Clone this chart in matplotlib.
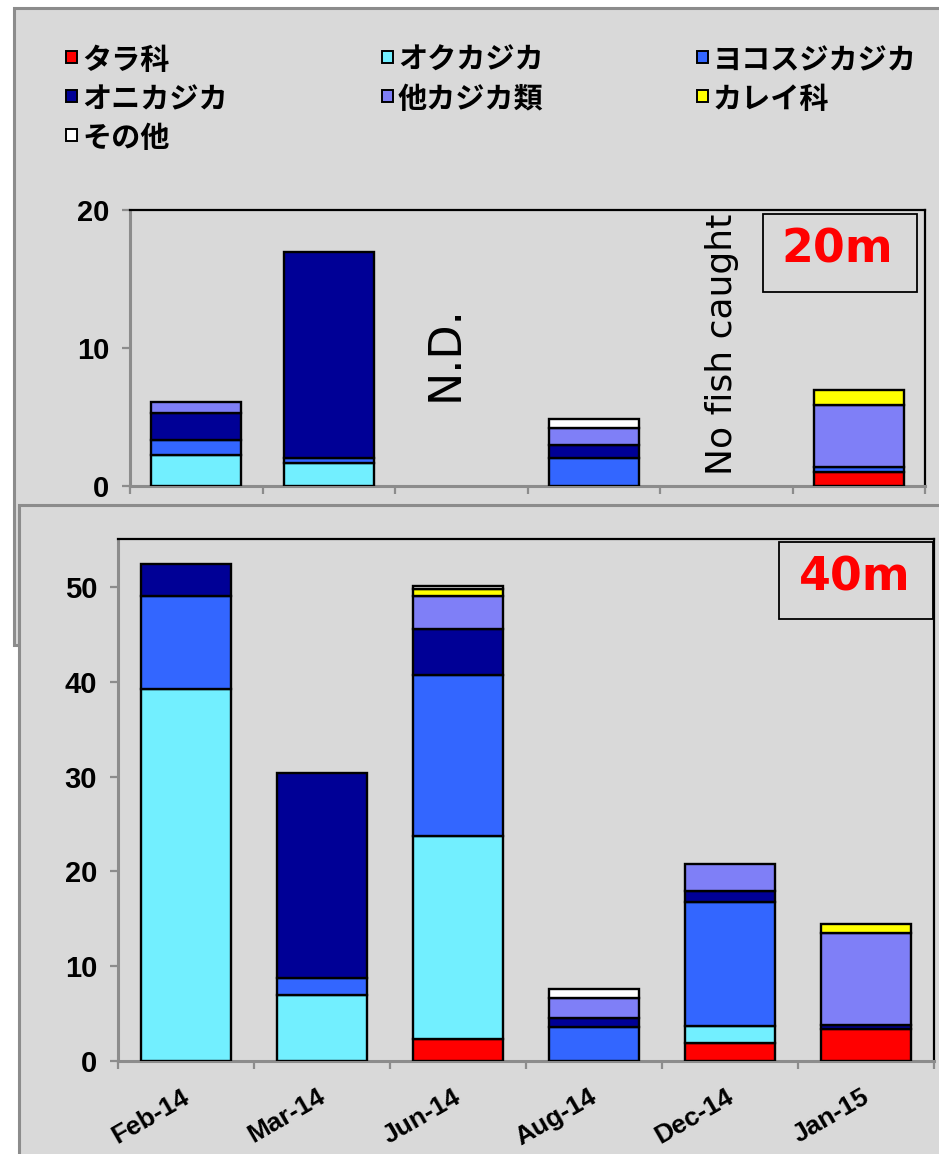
import numpy as np
import matplotlib
matplotlib.use("Agg")
import matplotlib.pyplot as plt
from matplotlib.patches import Rectangle
from matplotlib.transforms import ScaledTranslation

# ---------------- data ----------------
categories = ["Feb-14", "Mar-14", "Jun-14", "Aug-14", "Dec-14", "Jan-15"]
species = ["タラ科", "オクカジカ", "ヨコスジカジカ", "オニカジカ", "他カジカ類", "カレイ科", "その他"]
colors = ["#ff0000", "#72efff", "#3366ff", "#000096", "#7f7ff7", "#ffff00", "#ffffff"]

# 20 m station
tara_20 = [0, 0, 0, 0, 0, 1.0]
okukajika_20 = [2.25, 1.67, 0, 0, 0, 0]
yokosuji_20 = [1.1, 0.36, 0, 2.03, 0, 0.38]
onikajika_20 = [1.95, 14.9, 0, 0.94, 0, 0]
otherkajika_20 = [0.8, 0, 0, 1.23, 0, 4.5]
karei_20 = [0, 0, 0, 0, 0, 1.1]
sonota_20 = [0, 0, 0, 0.66, 0, 0]

# 40 m station
tara_40 = [0, 0, 2.3, 0, 1.9, 3.4]
okukajika_40 = [39.2, 7.0, 21.4, 0, 1.8, 0]
yokosuji_40 = [9.85, 1.8, 17.0, 3.6, 13.1, 0]
onikajika_40 = [3.4, 21.6, 4.9, 0.9, 1.1, 0.35]
otherkajika_40 = [0, 0, 3.45, 2.15, 2.9, 9.75]
karei_40 = [0, 0, 0.75, 0, 0, 0.95]
sonota_40 = [0, 0, 0.3, 0.95, 0, 0]

series_20 = [tara_20, okukajika_20, yokosuji_20, onikajika_20, otherkajika_20, karei_20, sonota_20]
series_40 = [tara_40, okukajika_40, yokosuji_40, onikajika_40, otherkajika_40, karei_40, sonota_40]

yticks_20 = [0, 10, 20]
yticks_40 = [0, 10, 20, 30, 40, 50]

# ---------------- layout ----------------
W, H = 939, 1154
DPI = 100
BG = "#d9d9d9"
GRAY = "#8c8c8c"

fig = plt.figure(figsize=(W / DPI, H / DPI), dpi=DPI)
fig.patch.set_facecolor("white")


def fx(x):
    return x / W


def fy(y):
    return 1 - y / H


# panel backgrounds
top_panel = Rectangle((fx(14), fy(645)), fx(1000), (645 - 8) / H, transform=fig.transFigure,
                      facecolor=BG, edgecolor=GRAY, linewidth=2.2, zorder=-2)
fig.patches.append(top_panel)
bot_panel = Rectangle((fx(19), fy(1200)), fx(1000), (1200 - 505) / H, transform=fig.transFigure,
                      facecolor=BG, edgecolor=GRAY, linewidth=2.2, zorder=-1)
fig.patches.append(bot_panel)

ax1 = fig.add_axes([fx(130), fy(486), (925 - 130) / W, (486 - 210) / H])
ax2 = fig.add_axes([fx(118), fy(1061), (934 - 118) / W, (1061 - 539) / H])

tick_font = dict(family="Liberation Sans", weight="bold")


def draw_stack(ax, series, width):
    x = np.arange(len(categories))
    bottom = np.zeros(len(categories))
    for vals, col in zip(series, colors):
        v = np.asarray(vals, dtype=float)
        m = v > 0
        ax.bar(x[m], v[m], width=width, bottom=bottom[m], color=col,
               edgecolor="black", linewidth=1.7, zorder=3)
        bottom += v


def style_axes(ax, ymax, yticks):
    ax.set_facecolor(BG)
    ax.set_xlim(-0.5, len(categories) - 0.5)
    ax.set_ylim(0, ymax)
    ax.set_yticks(yticks)
    ax.set_yticklabels([str(t) for t in yticks], fontsize=21, **tick_font)
    ax.tick_params(axis="y", direction="out", length=6, width=1.6, color=GRAY, pad=9)
    ax.set_xticks(np.arange(-0.5, len(categories), 1.0), minor=True)
    ax.tick_params(axis="x", which="minor", direction="out", length=6, width=1.6, color=GRAY)
    for s in ("left", "bottom"):
        ax.spines[s].set_color(GRAY)
        ax.spines[s].set_linewidth(2.2)
    for s in ("top", "right"):
        ax.spines[s].set_color("black")
        ax.spines[s].set_linewidth(1.6)


# top (20 m)
draw_stack(ax1, series_20, 0.68)
style_axes(ax1, 20, yticks_20)
ax1.set_xticks([])
ax1.text(1.88, 9.6, "N.D.", rotation=90, ha="center", va="center", fontsize=32,
         family="DejaVu Sans", zorder=4)
ax1.text(3.97, 10.3, "No fish caught", rotation=90, ha="center", va="center", fontsize=26,
         family="DejaVu Sans", zorder=4)
ax1.add_patch(Rectangle((0.796, 0.703), 0.194, 0.283, transform=ax1.transAxes,
                        facecolor="none", edgecolor="black", linewidth=1.3, zorder=4))
ax1.text(0.890, 0.855, "20m", transform=ax1.transAxes, ha="center", va="center",
         fontsize=33, color="#ff0000", weight="bold", family="DejaVu Sans", zorder=5)

# bottom (40 m)
draw_stack(ax2, series_40, 0.66)
style_axes(ax2, 55.05, yticks_40)
ax2.set_xticks(np.arange(len(categories)))
ax2.set_xticklabels(categories, rotation=30, ha="right", va="top", fontsize=19, **tick_font)
ax2.tick_params(axis="x", which="major", length=0, pad=17)
offset = ScaledTranslation(7 / DPI, 0, fig.dpi_scale_trans)
for lbl in ax2.get_xticklabels():
    lbl.set_transform(lbl.get_transform() + offset)
ax2.add_patch(Rectangle((0.810, 0.847), 0.189, 0.147, transform=ax2.transAxes,
                        facecolor="none", edgecolor="black", linewidth=1.3, zorder=4))
ax2.text(0.903, 0.925, "40m", transform=ax2.transAxes, ha="center", va="center",
         fontsize=33, color="#ff0000", weight="bold", family="DejaVu Sans", zorder=5)

# legend (manual, row-wise in 3 columns)
col_x = [66, 382, 697]
row_y = [59, 98, 137]
for i, (name, col) in enumerate(zip(species, colors)):
    r, c = divmod(i, 3)
    mx, my = col_x[c], row_y[r]
    fig.patches.append(Rectangle((fx(mx), fy(my + 4)), 11 / W, 12 / H, transform=fig.transFigure,
                                 facecolor=col, edgecolor="black", linewidth=1.4, zorder=2))
    fig.text(fx(mx + 16), fy(my + 1), name, ha="left", va="center", fontsize=21,
             family=["Noto Sans CJK JP", "DejaVu Sans"], weight="bold")

fig.savefig("out.png", dpi=DPI, facecolor=fig.get_facecolor())
